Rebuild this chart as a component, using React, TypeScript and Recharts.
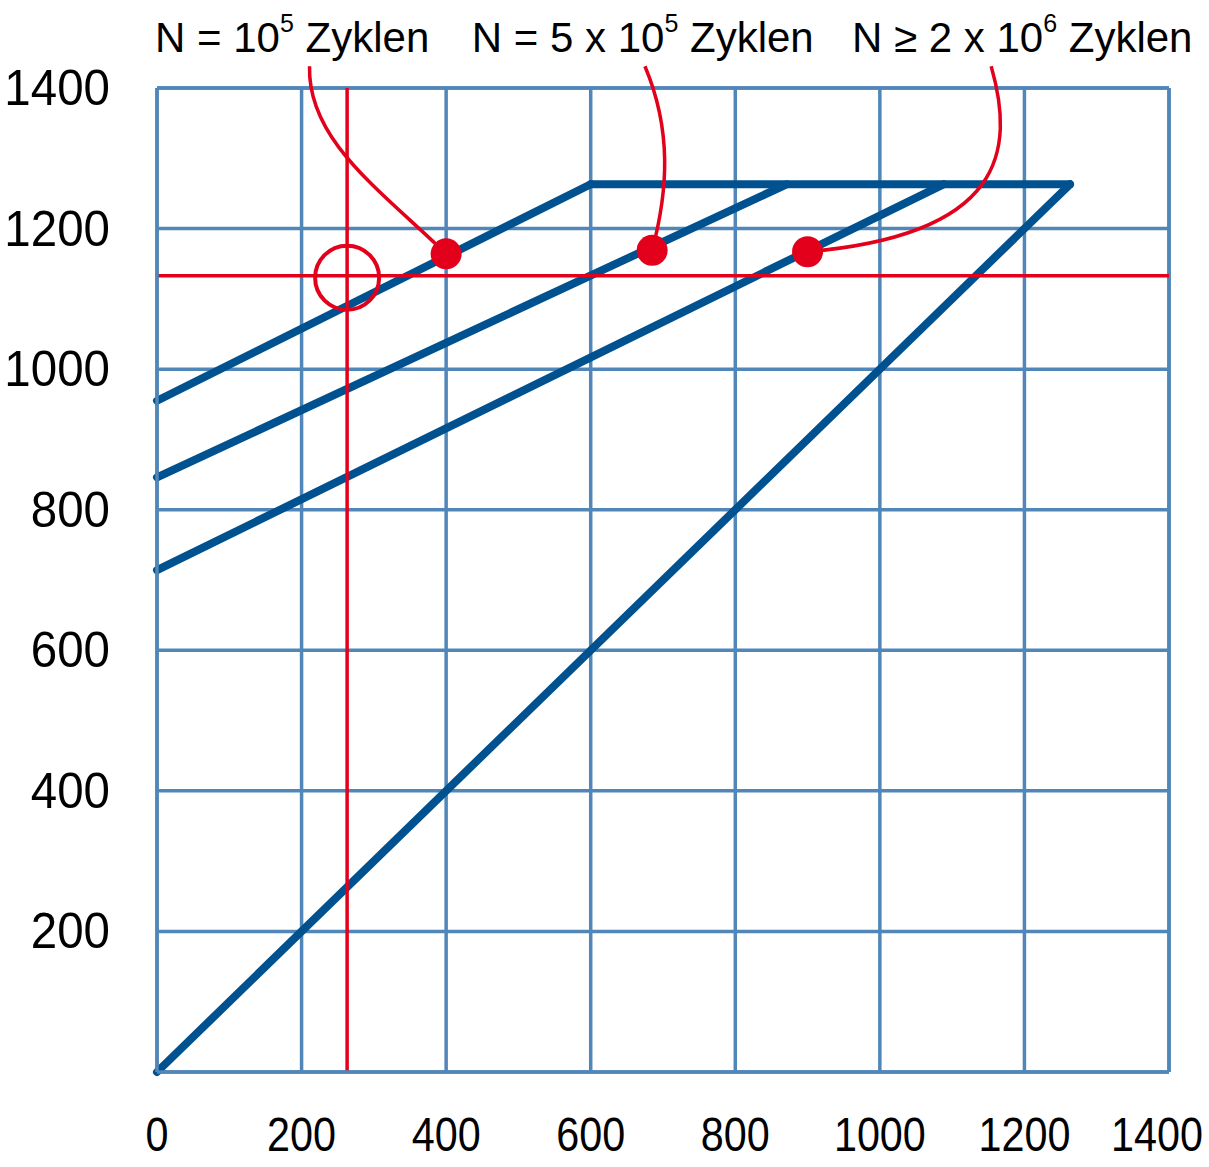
import React from 'react';
import { ComposedChart, Line, XAxis, YAxis, CartesianGrid, ReferenceLine, ReferenceDot } from 'recharts';

const axisTicks = [0, 200, 400, 600, 800, 1000, 1200, 1400];

// blue limit lines of the diagram
const diagonalLine = [{ x: 0, y: 0 }, { x: 1263, y: 1263 }];
const upperLimit = [{ x: 600, y: 1263 }, { x: 1263, y: 1263 }];
const line1e5 = [{ x: 0, y: 955 }, { x: 600, y: 1263 }];
const line5e5 = [{ x: 0, y: 846 }, { x: 871, y: 1263 }];
const line2e6 = [{ x: 0, y: 714 }, { x: 1088, y: 1263 }];

// red operating point (cross + circle)
const opX = 263;
const opY = 1133;

// red markers on the cycle lines
const markers = [
  { x: 400, y: 1164 },
  { x: 685, y: 1169 },
  { x: 900, y: 1167 },
];

// labels above the plot
const labelPrefix = ['N = 10', 'N = 5 x 10', 'N \u2265 2 x 10'];
const labelExp = ['5', '5', '6'];
const labelSuffix = ' Zyklen';
const labelX = [187, 672, 1197];
const labelY = 1451;
const calloutStartX = [211, 675, 1154];
const calloutStartY = 1431;

const BLUE = '#00518f';
const GRID = '#5087b8';
const RED = '#e3001b';
const FONT = '"Liberation Sans", Arial, sans-serif';

// bezier handles (px) for the callout curves
const calloutHandles: [number, number, number, number][] = [
  [-2, 74, -66, -64],
  [27, 64, 16, -60],
  [24, 84, 197, -17],
];

const XTick = ({ x, y, payload }: any) => {
  // last label is pulled inside the picture
  const shift = payload.value === 1400 ? -12 : 0;
  return (
    <text transform={`translate(${x + shift},${y + 79}) scale(0.87,1)`} textAnchor="middle" fontSize={47.5} fontFamily={FONT} fill="#000">
      {payload.value}
    </text>
  );
};

const YTick = ({ x, y, payload }: any) => {
  if (payload.value === 0) return <g />;
  return (
    <text transform={`translate(${x - 47},${y + 17}) scale(0.95,1)`} textAnchor="end" fontSize={50} fontFamily={FONT} fill="#000">
      {payload.value}
    </text>
  );
};

const calloutShape = (h: [number, number, number, number]) => (p: any) => {
  const { x1, y1, x2, y2 } = p;
  if (x1 == null) return <g />;
  const d = `M${x1},${y1} C${x1 + h[0]},${y1 + h[1]} ${x2 + h[2]},${y2 + h[3]} ${x2},${y2}`;
  return <path d={d} fill="none" stroke={RED} strokeWidth={3.5} />;
};

const labelShape = (i: number) => (p: any) => (
  <text x={p.cx} y={p.cy} textAnchor="middle" fontSize={42} fontFamily={FONT} fill="#000">
    <tspan>{labelPrefix[i]}</tspan>
    <tspan dy={-20} fontSize={25}>{labelExp[i]}</tspan>
    <tspan dy={20}>{labelSuffix}</tspan>
  </text>
);

const blueLine = (data: { x: number; y: number }[], key: string) => (
  <Line
    key={key}
    data={data}
    dataKey="y"
    type="linear"
    stroke={BLUE}
    strokeWidth={8}
    strokeLinecap="round"
    dot={false}
    activeDot={false}
    isAnimationActive={false}
  />
);

export default function App() {
  return (
    <div style={{ position: 'absolute', left: 0, top: 0, background: '#fff' }}>
      <ComposedChart width={1209} height={1167} margin={{ top: 88, right: 40, left: 47, bottom: 35 }}>
        <CartesianGrid stroke={GRID} strokeWidth={3.5} horizontalValues={axisTicks} verticalValues={axisTicks} />
        <XAxis
          type="number"
          dataKey="x"
          domain={[0, 1400]}
          ticks={axisTicks}
          height={60}
          tickSize={0}
          tickMargin={0}
          tickLine={false}
          axisLine={{ stroke: GRID, strokeWidth: 3.5 }}
          tick={<XTick />}
          interval={0}
        />
        <YAxis
          type="number"
          dataKey="y"
          domain={[0, 1400]}
          ticks={axisTicks}
          width={110}
          tickSize={0}
          tickMargin={0}
          tickLine={false}
          axisLine={{ stroke: GRID, strokeWidth: 3.5 }}
          tick={<YTick />}
          interval={0}
        />
        <ReferenceLine y={1400} stroke={GRID} strokeWidth={3.5} />
        <ReferenceLine x={1400} stroke={GRID} strokeWidth={3.5} />
        {blueLine(diagonalLine, 'diag')}
        {blueLine(upperLimit, 'upper')}
        {blueLine(line1e5, 'n1')}
        {blueLine(line5e5, 'n2')}
        {blueLine(line2e6, 'n3')}
        <ReferenceLine x={opX} stroke={RED} strokeWidth={3.5} />
        <ReferenceLine y={opY} stroke={RED} strokeWidth={3.5} />
        <ReferenceDot x={opX} y={opY - 3} r={32} fill="none" stroke={RED} strokeWidth={4} ifOverflow="visible" />
        {markers.map((m, i) => (
          <ReferenceLine
            key={`c${i}`}
            segment={[{ x: calloutStartX[i], y: calloutStartY }, { x: m.x, y: m.y }]}
            ifOverflow="visible"
            stroke={RED}
            shape={calloutShape(calloutHandles[i])}
          />
        ))}
        {markers.map((m, i) => (
          <ReferenceDot key={`m${i}`} x={m.x} y={m.y} r={15.5} fill={RED} stroke="none" ifOverflow="visible" />
        ))}
        {labelX.map((lx, i) => (
          <ReferenceDot key={`l${i}`} x={lx} y={labelY} r={1} ifOverflow="visible" shape={labelShape(i)} />
        ))}
      </ComposedChart>
    </div>
  );
}
